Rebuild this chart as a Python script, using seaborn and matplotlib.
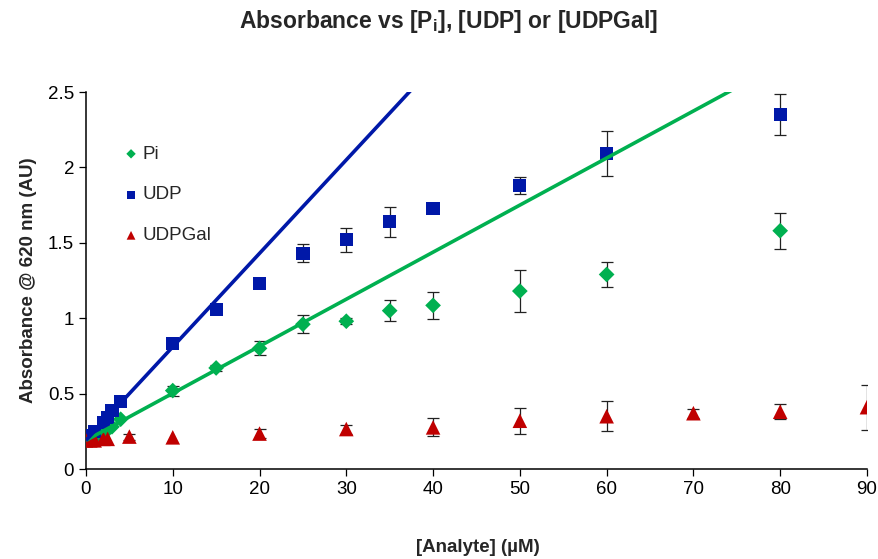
import numpy as np
import pandas as pd
import seaborn as sns
import matplotlib.pyplot as plt

sns.set_style("ticks")
plt.rcParams["font.family"] = ["Liberation Sans", "DejaVu Sans"]

# data
pi_x = [0, 0.5, 1, 2, 2.5, 3, 4, 10, 15, 20, 25, 30, 35, 40, 50, 60, 80]
pi_y = [0.19, 0.20, 0.21, 0.24, 0.26, 0.28, 0.33, 0.52, 0.67, 0.80, 0.96, 0.98, 1.05, 1.085, 1.18, 1.29, 1.58]
pi_err = [0, 0, 0, 0, 0, 0, 0, 0.033, 0.02, 0.047, 0.06, 0.02, 0.07, 0.09, 0.14, 0.08, 0.12]

udp_x = [0, 0.5, 1, 2, 2.5, 3, 4, 10, 15, 20, 25, 30, 35, 40, 50, 60, 80]
udp_y = [0.20, 0.22, 0.25, 0.31, 0.34, 0.39, 0.45, 0.83, 1.06, 1.23, 1.43, 1.52, 1.64, 1.73, 1.88, 2.09, 2.35]
udp_err = [0, 0, 0, 0, 0, 0, 0, 0, 0, 0, 0.06, 0.08, 0.10, 0, 0.055, 0.15, 0.135]

gal_x = [0, 0.5, 1, 2, 2.5, 5, 10, 20, 30, 40, 50, 60, 70, 80, 90]
gal_y = [0.19, 0.19, 0.19, 0.20, 0.20, 0.215, 0.21, 0.235, 0.265, 0.276, 0.32, 0.35, 0.37, 0.38, 0.41]
gal_err = [0, 0, 0, 0, 0, 0.02, 0, 0.03, 0.03, 0.06, 0.085, 0.10, 0.03, 0.05, 0.15]

# linear trendlines (intercept, slope)
pi_fit = (0.19, 0.0312)
udp_fit = (0.19, 0.062)

series = [
    ("Pi", pi_x, pi_y, pi_err, "#00B050", "D", 8),
    ("UDP", udp_x, udp_y, udp_err, "#0018A8", "s", 9.5),
    ("UDPGal", gal_x, gal_y, gal_err, "#C00000", "^", 10.5),
]

fig, ax = plt.subplots(figsize=(8.79, 5.59), dpi=100)
fig.subplots_adjust(left=0.0978, right=0.9863, top=0.8354, bottom=0.161)

for name, xs, ys, errs, col, mk, ms in series:
    df = pd.DataFrame({"x": xs, "y": ys, "err": errs})
    e = df[df["err"] > 0]
    ax.errorbar(e["x"], e["y"], yerr=e["err"], fmt="none", ecolor="#222222",
                elinewidth=0.9, capsize=4, capthick=0.9, zorder=2)
    sns.scatterplot(data=df, x="x", y="y", marker=mk, color=col, s=ms ** 2,
                    edgecolor="none", label=name, ax=ax, zorder=3)

for (b0, b1), col in [(pi_fit, "#00B050"), (udp_fit, "#0018A8")]:
    xl = np.array([0, 90])
    ax.plot(xl, b0 + b1 * xl, color=col, lw=2.6, zorder=4, solid_capstyle="butt")

ax.set_xlim(0, 90)
ax.set_ylim(0, 2.5)
ax.set_xticks(np.arange(0, 91, 10))
ax.set_yticks([0, 0.5, 1, 1.5, 2, 2.5])
ax.set_yticklabels(["0", "0.5", "1", "1.5", "2", "2.5"])
ax.tick_params(labelsize=13.5, length=5, width=0.9, colors="black")
for s in ["left", "bottom"]:
    ax.spines[s].set_linewidth(1.1)
    ax.spines[s].set_color("black")
sns.despine(ax=ax)

ax.set_xlabel("")
ax.set_ylabel("Absorbance @ 620 nm (AU)", fontsize=13.5, fontweight="bold", labelpad=8)

fig.text(0.51, 0.961, "Absorbance vs [P$_\\mathregular{i}$], [UDP] or [UDPGal]",
         ha="center", va="center", fontsize=16.5, fontweight="bold")
fig.text(0.544, 0.02, "[Analyte] (µM)", ha="center", va="center",
         fontsize=13.5, fontweight="bold")

leg = ax.legend(loc="center left", bbox_to_anchor=(0.0505, 0.727), frameon=False,
                fontsize=13.5, handlelength=0.6, handletextpad=0.3,
                labelspacing=1.26, borderpad=0, borderaxespad=0, markerscale=0.6)

fig.savefig("out.png", dpi=100)
